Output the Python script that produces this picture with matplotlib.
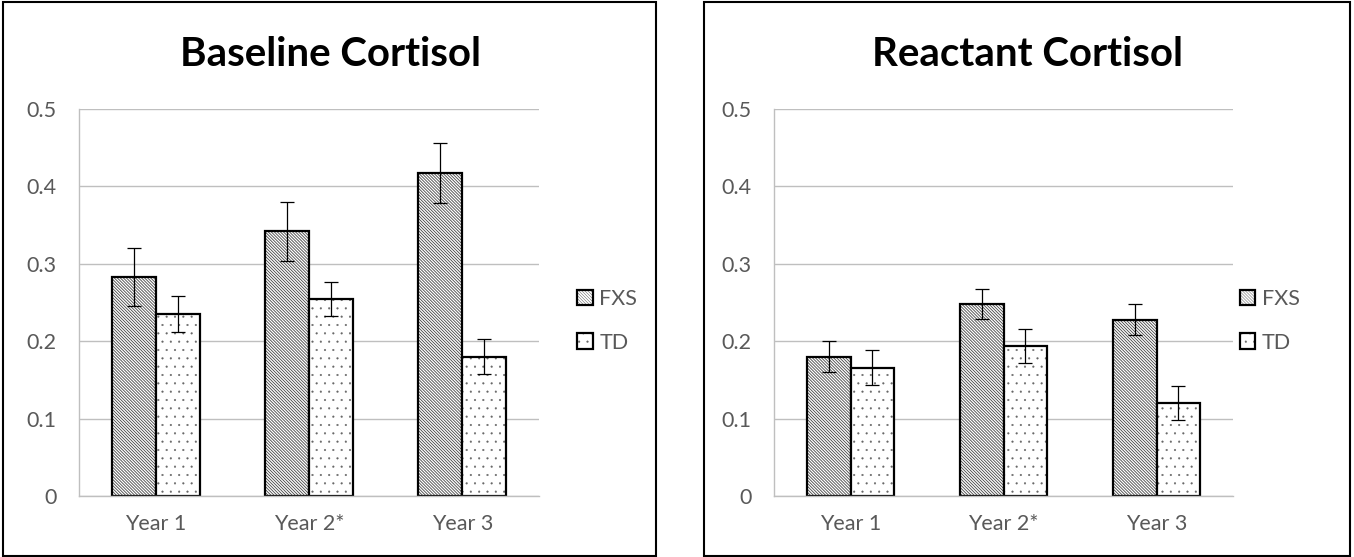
import matplotlib
matplotlib.use("Agg")
import matplotlib.pyplot as plt
import matplotlib.colors as mcolors
import numpy as np
from matplotlib.patches import Rectangle

categories = ["Year 1", "Year 2*", "Year 3"]
series_names = ["FXS", "TD"]

baseline_fxs = [0.283, 0.342, 0.417]
baseline_fxs_err = [0.038, 0.038, 0.039]
baseline_td = [0.235, 0.254, 0.180]
baseline_td_err = [0.023, 0.022, 0.023]

reactant_fxs = [0.180, 0.248, 0.228]
reactant_fxs_err = [0.020, 0.019, 0.020]
reactant_td = [0.166, 0.194, 0.120]
reactant_td_err = [0.022, 0.022, 0.022]

yticks = [0, 0.1, 0.2, 0.3, 0.4, 0.5]
ytick_labels = ["0", "0.1", "0.2", "0.3", "0.4", "0.5"]

plt.rcParams['font.family'] = ['Lato', 'DejaVu Sans']

W, H = 1354, 557
fig = plt.figure(figsize=(W / 100, H / 100), dpi=100)

# panel frames
fig.patches.append(Rectangle((3 / W, 1 / H), (656 - 3) / W, (555 - 1) / H,
                             transform=fig.transFigure, fill=False,
                             edgecolor='black', linewidth=1.5))
fig.patches.append(Rectangle((704 / W, 1 / H), (1350 - 704) / W, (555 - 1) / H,
                             transform=fig.transFigure, fill=False,
                             edgecolor='black', linewidth=1.5))

def px_rect(x0, x1, ytop, ybot):
    return [x0 / W, (H - ybot) / H, (x1 - x0) / W, (ybot - ytop) / H]

ax1 = fig.add_axes(px_rect(79, 539, 109, 496))
ax2 = fig.add_axes(px_rect(774, 1233, 109, 496))

grey = '#595959'
bw = 0.287
line_hatch = '\\' * 11
dot_hatch = '..'

def style_hatch(patches, color, lw):
    for p in patches:
        p._hatch_color = mcolors.to_rgba(color)
        if hasattr(p, 'set_hatch_linewidth'):
            p.set_hatch_linewidth(lw)

def draw(ax, title, fxs, fxs_err, td, td_err, legend_x, title_x):
    x = np.arange(len(categories))
    ax.set_xlim(-0.5, len(categories) - 0.5)
    ax.set_ylim(0, 0.5)
    ax.yaxis.grid(True, color='#bfbfbf', linewidth=1.0)
    ax.set_axisbelow(True)
    ekw = dict(ecolor='black', elinewidth=0.9, capthick=0.9)
    plt.rcParams['hatch.linewidth'] = 0.6
    b1 = ax.bar(x - bw / 2, fxs, bw, facecolor='white', edgecolor='black',
                linewidth=1.6, hatch=line_hatch, yerr=fxs_err, capsize=5,
                error_kw=ekw, label=series_names[0], zorder=2)
    style_hatch(b1.patches, '#444444', 0.6)
    plt.rcParams['hatch.linewidth'] = 0.3
    b2 = ax.bar(x + bw / 2, td, bw, facecolor='white', edgecolor='black',
                linewidth=1.6, hatch=dot_hatch, yerr=td_err, capsize=5,
                error_kw=ekw, label=series_names[1], zorder=2)
    style_hatch(b2.patches, '#666666', 0.3)
    ax.set_xticks(x)
    ax.set_xticklabels(categories, fontsize=15.5, color=grey)
    ax.set_yticks(yticks)
    ax.set_yticklabels(ytick_labels, fontsize=15.5, color=grey)
    ax.tick_params(axis='both', length=0)
    ax.tick_params(axis='y', pad=16)
    ax.tick_params(axis='x', pad=13)
    for s in ['top', 'right']:
        ax.spines[s].set_visible(False)
    for s in ['left', 'bottom']:
        ax.spines[s].set_color('#bfbfbf')
        ax.spines[s].set_linewidth(1.0)
    leg = ax.legend(loc='center left', bbox_to_anchor=(legend_x, 0.453),
                    frameon=False, handlelength=0.72, handleheight=0.72,
                    handletextpad=0.3, labelspacing=1.1, fontsize=15.5,
                    borderaxespad=0, borderpad=0)
    for t in leg.get_texts():
        t.set_color(grey)
    fig.text(title_x / W, (H - 55) / H, title, fontsize=29, fontweight='bold',
             ha='center', va='center', color='black')

draw(ax1, "Baseline Cortisol", baseline_fxs, baseline_fxs_err,
     baseline_td, baseline_td_err, 1.083, 331)
draw(ax2, "Reactant Cortisol", reactant_fxs, reactant_fxs_err,
     reactant_td, reactant_td_err, 1.015, 1027)

fig.savefig("out.png", dpi=100)
